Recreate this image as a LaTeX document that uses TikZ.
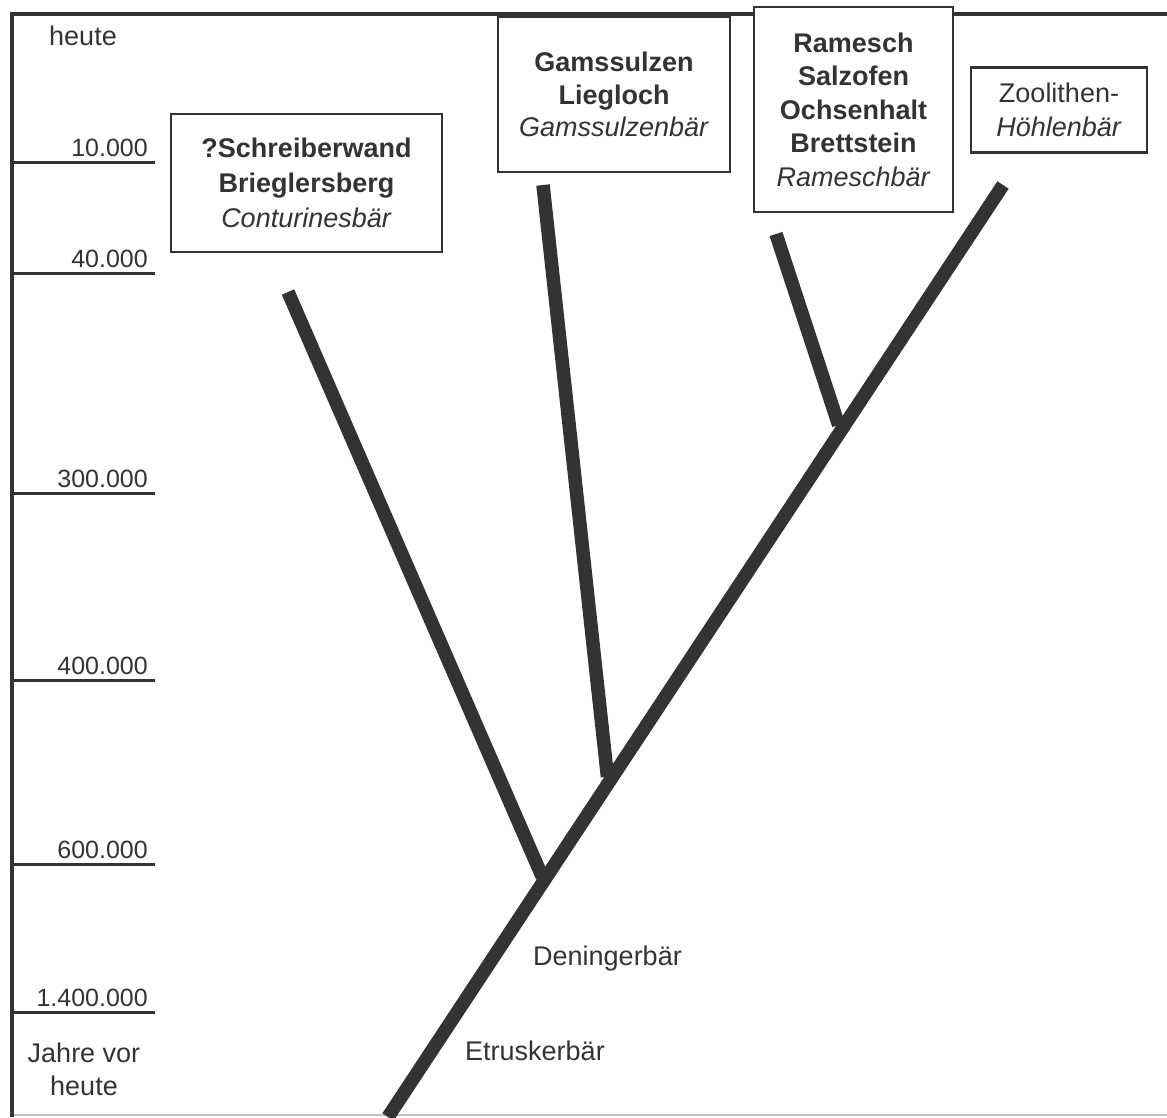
\documentclass[tikz,border=0pt]{standalone}
\usepackage{fontspec}
\setmainfont{Liberation Sans}
\usetikzlibrary{calc}
\definecolor{ink}{HTML}{333333}
\begin{document}
\begin{tikzpicture}[x=1pt,y=-1pt,
  frameline/.style={draw=ink,line width=4pt},
  tickline/.style={draw=ink,line width=3pt},
  ticklabel/.style={anchor=base east,inner sep=0pt,text=ink,font=\fontsize{25}{30}\selectfont},
  plainlabel/.style={inner sep=0pt,text=ink,font=\fontsize{27}{33}\selectfont},
  sitebox/.style={draw=ink,line width=2.5pt,fill=white,inner sep=0pt,align=center,text=ink},
  branch/.style={draw=ink,line width=13.5pt,line cap=butt}]
\useasboundingbox (0,0) rectangle (1167,1117);
% frame
\draw[draw=black!25,line width=2pt] (12,1115) -- (1167,1115);
\draw[frameline] (1167,13.5) -- (12,13.5) -- (12,1117);
% time axis
\foreach \y/\t/\n in {162/10.000/ta,273/40.000/tb,493/300.000/tc,680/400.000/td,864/600.000/te,1012/1.400.000/tf}{
  \draw[tickline] (12,\y) -- (155,\y);
  \node[ticklabel] (\n) at (148,\y-6) {\t};
}
\node[plainlabel,anchor=base] (heute) at (83,45) {heute};
\node[plainlabel,anchor=base,align=center,font=\fontsize{27}{33}\selectfont] (jahre) at (84,1095) {Jahre vor\\heute};
% boxes
\node[sitebox,minimum width=271,minimum height=138,font=\fontsize{27}{35}\selectfont] (cont) at (306.5,183)
  {\textbf{?Schreiberwand}\\\textbf{Brieglersberg}\\\textit{Conturinesbär}};
\node[sitebox,minimum width=232,minimum height=155,font=\fontsize{27}{32.5}\selectfont] (gams) at (614,94.5)
  {\textbf{Gamssulzen}\\\textbf{Liegloch}\\\textit{Gamssulzenbär}};
\node[sitebox,minimum width=199,minimum height=205,font=\fontsize{27}{33.5}\selectfont] (ram) at (853.5,109.5)
  {\textbf{Ramesch}\\\textbf{Salzofen}\\\textbf{Ochsenhalt}\\\textbf{Brettstein}\\\textit{Rameschbär}};
\node[sitebox,minimum width=176,minimum height=85,font=\fontsize{27}{34}\selectfont] (zoo) at (1059,110)
  {Zoolithen-\\\textit{Höhlenbär}};
% tree
\coordinate (bot) at (388,1117);
\coordinate (top) at (1003,185);
\coordinate (jc) at ($(bot)!0.2575!(top)$);
\coordinate (jg) at ($(bot)!0.365!(top)$);
\coordinate (jr) at ($(bot)!0.7425!(top)$);
\coordinate (tc) at (288,292);
\coordinate (tg) at (543,185);
\coordinate (tr) at (776,234);
\draw[branch] (tc) -- ($(jc)+(-4,0)$);
\draw[branch] (tg) -- ($(jg)+(-5,0)$);
\draw[branch] (tr) -- ($(jr)+(-6,0)$);
\draw[branch] (bot) -- (top);
\node[plainlabel,anchor=base west] (den) at (533,965) {Deningerbär};
\node[plainlabel,anchor=base west] (etr) at (465,1060) {Etruskerbär};
\end{tikzpicture}
\end{document}
